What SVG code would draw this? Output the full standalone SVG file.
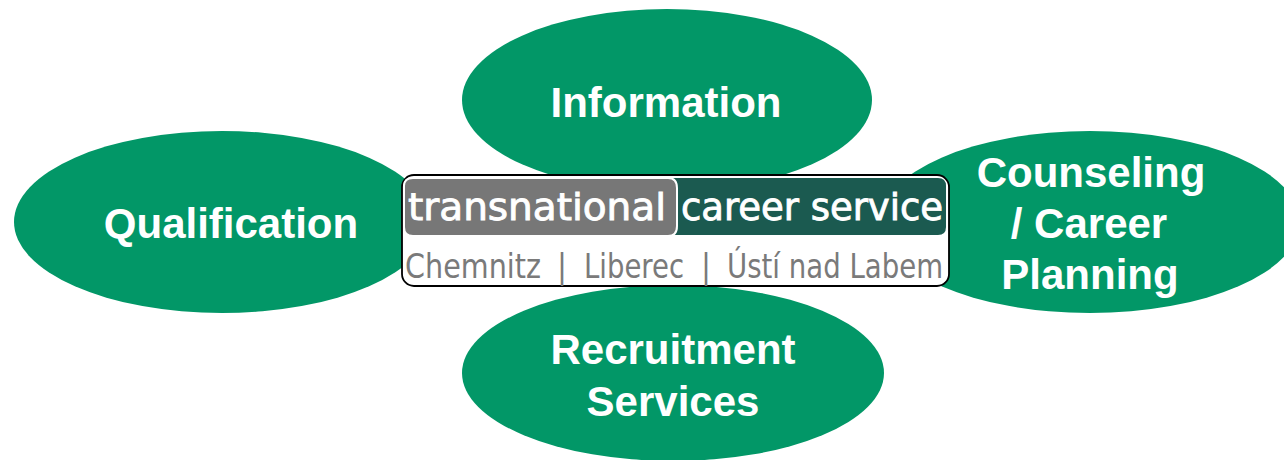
<svg xmlns="http://www.w3.org/2000/svg" width="1284" height="460" viewBox="0 0 1284 460">
<style>
.node{fill:#029767;}
.lbl{font-family:"Liberation Sans",Arial,sans-serif;font-weight:bold;font-size:42px;fill:#ffffff;text-anchor:middle;}
.logo{font-family:"DejaVu Sans Condensed","DejaVu Sans",sans-serif;}
.top{font-size:38px;fill:#ffffff;stroke:#ffffff;stroke-width:0.8;}
.sub{font-size:33px;fill:#7a7a7a;}
</style>
<rect width="1284" height="460" fill="#ffffff"/>
<g id="connectors"></g>
<g id="information">
<ellipse class="node" cx="667" cy="100" rx="205" ry="91"/>
<text class="lbl" x="666" y="117">Information</text>
</g>
<g id="qualification">
<ellipse class="node" cx="222" cy="222" rx="208" ry="91"/>
<text class="lbl" x="231" y="238">Qualification</text>
</g>
<g id="counseling">
<ellipse class="node" cx="1090" cy="222" rx="210" ry="91"/>
<text class="lbl" x="1091" y="187">Counseling</text>
<text class="lbl" x="1089" y="238">/ Career</text>
<text class="lbl" x="1090" y="289">Planning</text>
</g>
<g id="recruitment">
<ellipse class="node" cx="673" cy="373" rx="211" ry="88"/>
<text class="lbl" x="673" y="364">Recruitment</text>
<text class="lbl" x="673" y="416">Services</text>
</g>
<g id="logo">
<rect x="402" y="175" width="547" height="111" rx="12" fill="#ffffff" stroke="#000000" stroke-width="1.8"/>
<path d="M670 178 H938 Q946 178 946 186 V227 Q946 235 938 235 H670 Z" fill="#1b5a50"/>
<path d="M413 178 H668 Q677 178 677 188 V226 Q677 236 668 236 H413 Q404 236 404 227 V186 Q404 178 413 178 Z" fill="#777777" stroke="#ffffff" stroke-width="2"/>
<text class="logo top" x="408" y="220" textLength="258" lengthAdjust="spacingAndGlyphs">transnational</text>
<text class="logo top" x="681" y="220" textLength="262" lengthAdjust="spacingAndGlyphs">career service</text>
<text class="logo sub" y="278"><tspan x="405" textLength="136" lengthAdjust="spacingAndGlyphs">Chemnitz</tspan><tspan x="557">|</tspan><tspan x="584" textLength="100" lengthAdjust="spacingAndGlyphs">Liberec</tspan><tspan x="701">|</tspan><tspan x="727" textLength="216" lengthAdjust="spacingAndGlyphs">Ústí nad Labem</tspan></text>
</g>
</svg>
